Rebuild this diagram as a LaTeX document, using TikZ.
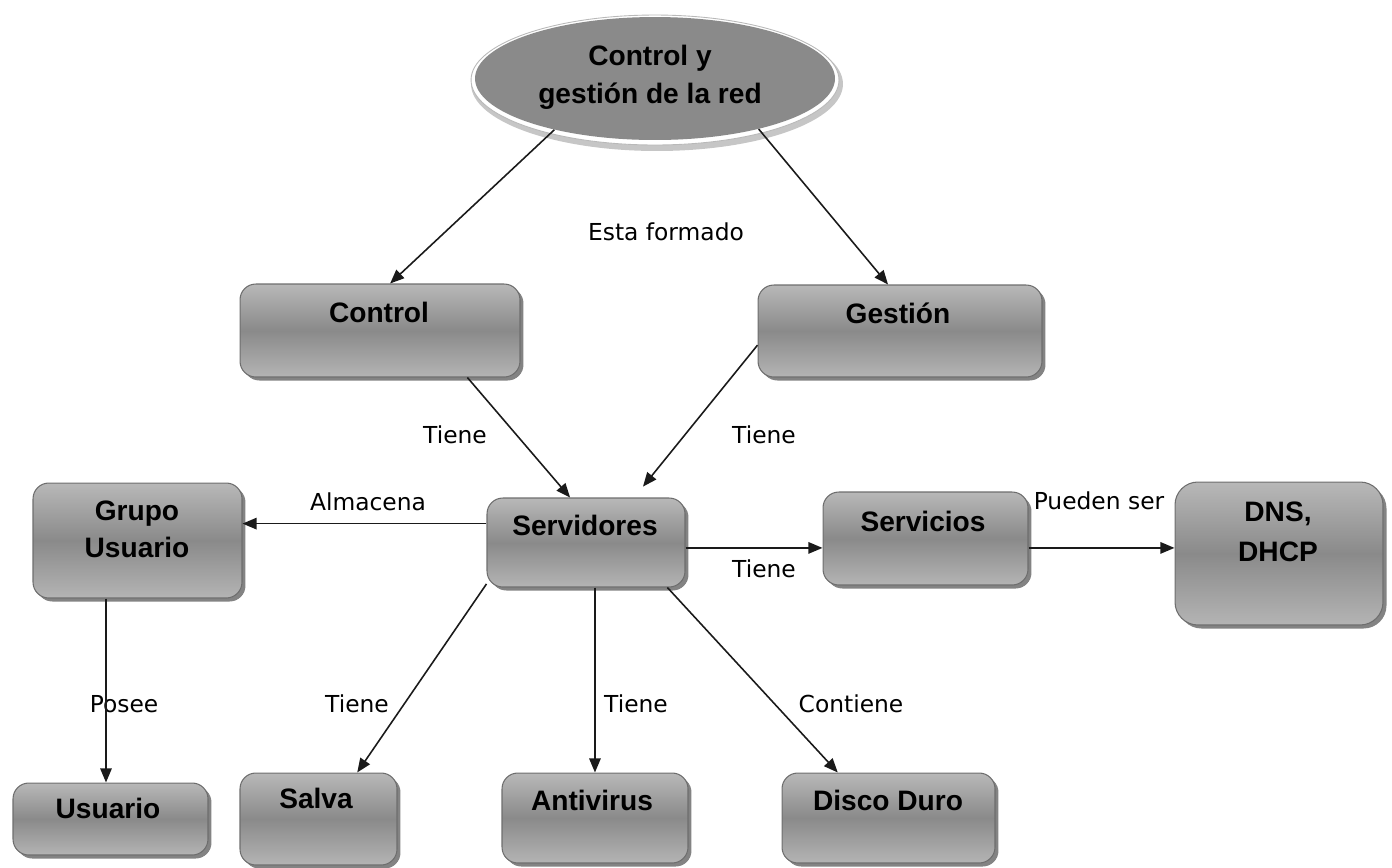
\documentclass[tikz,border=0pt]{standalone}
\usepackage{fontspec}
\setmainfont{Liberation Sans}
\newfontfamily\lblfont{DejaVu Sans}
\usetikzlibrary{arrows.meta,shadows,calc,shapes.geometric}
\definecolor{boxtop}{HTML}{B8B8B8}
\definecolor{boxmid}{HTML}{8A8A8A}
\definecolor{boxbot}{HTML}{B4B4B4}
\definecolor{boxedge}{HTML}{6E6E6E}
\definecolor{ovalfill}{HTML}{8A8A8A}
\definecolor{linecol}{HTML}{1A1A1A}
\begin{document}
\begin{tikzpicture}[x=0.02cm,y=-0.02cm,
  concept/.style={rectangle, rounded corners=9pt, draw=boxedge, line width=0.6pt,
     top color=boxtop, bottom color=boxbot, middle color=boxmid, inner sep=0pt,
     drop shadow={shadow xshift=0.07cm, shadow yshift=-0.07cm, fill=black!65, opacity=0.75}},
  title/.style={font=\bfseries\fontsize{16}{21}\selectfont, align=center, inner sep=0pt},
  link/.style={font=\lblfont\fontsize{13.3}{16}\selectfont, inner sep=0pt, anchor=base},
  arr/.style={draw=linecol, line width=0.9pt, -{Triangle[length=8pt,width=6.5pt]}}
]
\useasboundingbox (0,0) rectangle (1392,867);

% central oval with its light rim
\fill[gray!45] (657,84) ellipse [x radius=3.72cm, y radius=1.34cm];
\filldraw[fill=white, draw=gray!55, line width=0.5pt] (655,80) ellipse [x radius=3.68cm, y radius=1.30cm];
\node[ellipse, fill=ovalfill, minimum width=7.2cm, minimum height=2.46cm, inner sep=0pt] (ell) at (655,78.5) {};

% concept boxes
\node[concept, minimum width=5.6cm,  minimum height=1.86cm] (ctl) at (380,330.5) {};
\node[concept, minimum width=5.68cm, minimum height=1.84cm] (ges) at (900,331) {};
\node[concept, minimum width=4.18cm, minimum height=2.3cm]  (grp) at (137.5,540.5) {};
\node[concept, minimum width=3.96cm, minimum height=1.78cm] (srv) at (586,542.5) {};
\node[concept, minimum width=4.1cm,  minimum height=1.86cm] (svc) at (925.5,538.5) {};
\node[concept, rounded corners=13pt, minimum width=4.16cm, minimum height=2.86cm] (dns) at (1279,553.5) {};
\node[concept, minimum width=3.9cm,  minimum height=1.44cm] (usr) at (110.5,819) {};
\node[concept, minimum width=3.14cm, minimum height=1.84cm] (sal) at (318.5,819) {};
\node[concept, minimum width=3.72cm, minimum height=1.8cm]  (ant) at (595,818) {};
\node[concept, minimum width=4.26cm, minimum height=1.8cm]  (dis) at (888.5,818) {};

% box titles
\node[title, font=\bfseries\fontsize{16}{21.5}\selectfont] (ellT) at (650,77) {Control y\\gestión de la red};
\node[title, anchor=base] (ctlT) at (379,322) {Control};
\node[title, anchor=base] (gesT) at (898,323) {Gestión};
\node[title] (grpT) at (137,529) {Grupo\\Usuario};
\node[title, anchor=base] (srvT) at (585,535) {Servidores};
\node[title, anchor=base] (svcT) at (923,531) {Servicios};
\node[title, font=\bfseries\fontsize{16}{22.5}\selectfont] (dnsT) at (1278,532) {DNS,\\DHCP};
\node[title, anchor=base] (usrT) at (108,818) {Usuario};
\node[title, anchor=base] (salT) at (316,808) {Salva};
\node[title, anchor=base] (antT) at (592,810) {Antivirus};
\node[title, anchor=base] (disT) at (888,810) {Disco Duro};

% connector labels
\node[link] (l1)  at (666,240)  {Esta formado};
\node[link] (l2)  at (455,443)  {Tiene};
\node[link] (l3)  at (764,443)  {Tiene};
\node[link] (l4)  at (368,510)  {Almacena};
\node[link] (l5)  at (764,577)  {Tiene};
\node[link] (l6)  at (1099,509) {Pueden ser};
\node[link] (l7)  at (124,712)  {Posee};
\node[link] (l8)  at (357,712)  {Tiene};
\node[link] (l9)  at (636,712)  {Tiene};
\node[link] (l10) at (851,712)  {Contiene};

% connectors
\draw[arr] (ell.207) -- ($(ctl.north west)!0.536!(ctl.north east)$);
\draw[arr] (ell.334) -- ($(ges.north west)!0.458!(ges.north east)$);
\draw[arr] ($(ctl.south west)!0.811!(ctl.south east)$) -- ($(srv.north west)!0.42!(srv.north east)$);
\draw[arr, shorten >=0.28cm] ($(ges.north west)!0.652!(ges.south west)$) -- ($(srv.north west)!0.742!(srv.north east)$);

\coordinate (p1) at ($(srv.north west)!0.29!(srv.south west)$);
\draw[arr] (p1) -- (p1 -| grp.east);
\coordinate (p2) at ($(srv.north east)!0.56!(srv.south east)$);
\draw[arr] (p2) -- (p2 -| svc.west);
\coordinate (p3) at ($(svc.north east)!0.6!(svc.south east)$);
\draw[arr] (p3) -- (p3 -| dns.west);
\coordinate (p4) at ($(grp.south west)!0.35!(grp.south east)$);
\draw[arr] (p4) -- (p4 |- usr.north);

\draw[arr] ($(srv.north west)!0.96!(srv.south west)$) -- ($(sal.north west)!0.745!(sal.north east)$);
\coordinate (p5) at ($(srv.south west)!0.545!(srv.south east)$);
\draw[arr] (p5) -- (p5 |- ant.north);
\draw[arr] ($(srv.south west)!0.909!(srv.south east)$) -- ($(dis.north west)!0.263!(dis.north east)$);
\end{tikzpicture}
\end{document}
